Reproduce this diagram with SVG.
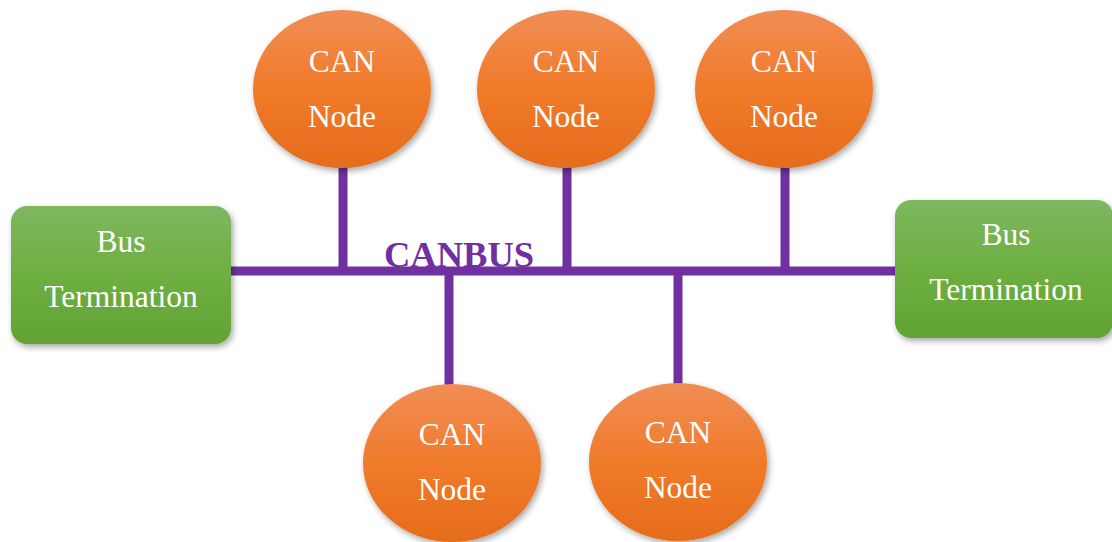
<svg xmlns="http://www.w3.org/2000/svg" width="1112" height="542" viewBox="0 0 1112 542">
<defs>
<linearGradient id="og" x1="0" y1="0" x2="0" y2="1">
<stop offset="0" stop-color="#F08D55"/>
<stop offset="0.5" stop-color="#F07B2A"/>
<stop offset="1" stop-color="#E56C1C"/>
</linearGradient>
<linearGradient id="gg" x1="0" y1="0" x2="0" y2="1">
<stop offset="0" stop-color="#7EB760"/>
<stop offset="0.5" stop-color="#6EAF42"/>
<stop offset="1" stop-color="#62A334"/>
</linearGradient>
<filter id="sh" x="-10%" y="-10%" width="125%" height="130%">
<feDropShadow dx="2" dy="3" stdDeviation="3" flood-color="#000" flood-opacity="0.35"/>
</filter>
</defs>
<style>
.node ellipse{fill:url(#og);filter:url(#sh)}
.term rect{fill:url(#gg);filter:url(#sh)}
.lbl{font-family:"Liberation Serif","Times New Roman",serif;font-size:31.5px;fill:#fff;text-anchor:middle}
.wire{stroke:#7030A0;stroke-width:9;fill:none}
.bus{font-family:"Liberation Serif","Times New Roman",serif;font-size:36.5px;font-weight:bold;fill:#7030A0}
</style>
<rect width="1112" height="542" fill="#fff"/>
<g id="connectors">
<line class="wire" x1="230" y1="271" x2="897" y2="271"/>
<line class="wire" x1="343" y1="166" x2="343" y2="271"/>
<line class="wire" x1="567" y1="166" x2="567" y2="271"/>
<line class="wire" x1="785" y1="166" x2="785" y2="271"/>
<line class="wire" x1="449" y1="271" x2="449" y2="386"/>
<line class="wire" x1="678" y1="271" x2="678" y2="385"/>
</g>
<text class="bus" x="384" y="267">CANBUS</text>
<g id="term-left" class="term">
<rect x="11" y="206" width="220" height="138" rx="16"/>
<text class="lbl" x="121" y="252">Bus</text>
<text class="lbl" x="121" y="307">Termination</text>
</g>
<g id="term-right" class="term">
<rect x="895" y="200" width="218" height="138" rx="16"/>
<text class="lbl" x="1006" y="245">Bus</text>
<text class="lbl" x="1006" y="300">Termination</text>
</g>
<g id="node1" class="node">
<ellipse cx="342" cy="89" rx="89" ry="79"/>
<text class="lbl" x="342" y="72">CAN</text>
<text class="lbl" x="342" y="127">Node</text>
</g>
<g id="node2" class="node">
<ellipse cx="566" cy="89" rx="89" ry="79"/>
<text class="lbl" x="566" y="72">CAN</text>
<text class="lbl" x="566" y="127">Node</text>
</g>
<g id="node3" class="node">
<ellipse cx="784" cy="89" rx="89" ry="79"/>
<text class="lbl" x="784" y="72">CAN</text>
<text class="lbl" x="784" y="127">Node</text>
</g>
<g id="node4" class="node">
<ellipse cx="452" cy="463" rx="89" ry="79"/>
<text class="lbl" x="452" y="445">CAN</text>
<text class="lbl" x="452" y="500">Node</text>
</g>
<g id="node5" class="node">
<ellipse cx="678" cy="462" rx="89" ry="79"/>
<text class="lbl" x="678" y="443">CAN</text>
<text class="lbl" x="678" y="498">Node</text>
</g>
</svg>
